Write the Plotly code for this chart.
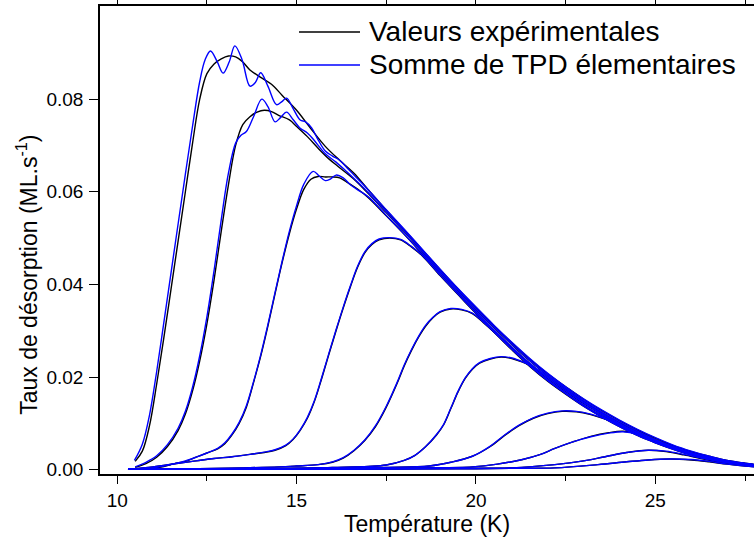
import plotly.graph_objects as go

# ---------------- data ----------------
# Temperature grids (K) and desorption rates (ML/s) for each TPD run
t1_exp = [10.50, 10.70, 10.90, 11.10, 11.30, 11.50, 11.70, 11.90, 12.10, 12.30, 12.50, 12.70, 12.90, 13.10, 13.30, 13.50, 13.70, 14.00, 14.30, 14.60, 15.00, 15.40, 15.80, 16.20, 16.60, 17.00, 17.50, 18.00, 18.50, 19.00, 19.50, 20.00, 20.50, 21.00, 21.50, 22.00, 22.50, 23.00, 23.50, 24.00, 24.50, 25.00, 25.50, 26.00, 26.50, 27.00, 27.50, 27.80]
exp1 = [0.0018, 0.0040, 0.0095, 0.0185, 0.0285, 0.0390, 0.0495, 0.0600, 0.0705, 0.0800, 0.0855, 0.0876, 0.0887, 0.0893, 0.0891, 0.0880, 0.0863, 0.0847, 0.0832, 0.0808, 0.0776, 0.0736, 0.0698, 0.0668, 0.0640, 0.0604, 0.0560, 0.0518, 0.0475, 0.0432, 0.0390, 0.0350, 0.0311, 0.0274, 0.0239, 0.0207, 0.0179, 0.0152, 0.0128, 0.0106, 0.0086, 0.0068, 0.0052, 0.0039, 0.0029, 0.0020, 0.0014, 0.0011]
t1_fit = [10.48, 10.70, 10.90, 11.10, 11.30, 11.50, 11.70, 11.90, 12.10, 12.30, 12.45, 12.60, 12.78, 12.95, 13.12, 13.28, 13.48, 13.70, 13.85, 14.00, 14.20, 14.44, 14.58, 14.72, 14.90, 15.10, 15.25, 15.42, 15.60, 15.80, 16.00, 16.20, 16.45, 16.70, 17.00, 17.50, 18.00, 18.50, 19.00, 19.50, 20.00, 20.50, 21.00, 21.50, 22.00, 22.50, 23.00, 23.50, 24.00, 24.50, 25.00, 25.50, 26.00, 26.50, 27.00, 27.50, 27.80]
fit1 = [0.0020, 0.0055, 0.0118, 0.0212, 0.0318, 0.0425, 0.0532, 0.0638, 0.0742, 0.0838, 0.0885, 0.0904, 0.0882, 0.0856, 0.0880, 0.0915, 0.0885, 0.0828, 0.0836, 0.0857, 0.0828, 0.0788, 0.0794, 0.0802, 0.0780, 0.0755, 0.0751, 0.0738, 0.0712, 0.0688, 0.0677, 0.0668, 0.0648, 0.0628, 0.0604, 0.0561, 0.0519, 0.0476, 0.0433, 0.0391, 0.0351, 0.0312, 0.0275, 0.0240, 0.0208, 0.0179, 0.0153, 0.0129, 0.0107, 0.0087, 0.0069, 0.0053, 0.0040, 0.0029, 0.0020, 0.0014, 0.0011]

t2_exp = [10.50, 10.80, 11.10, 11.40, 11.70, 11.90, 12.10, 12.30, 12.50, 12.70, 12.90, 13.10, 13.30, 13.50, 13.70, 13.90, 14.10, 14.30, 14.50, 14.80, 15.00, 15.30, 15.60, 15.90, 16.20, 16.60, 17.00, 17.50, 18.00, 18.50, 19.00, 19.50, 20.00, 20.50, 21.00, 21.50, 22.00, 22.50, 23.00, 23.50, 24.00, 24.50, 25.00, 25.50, 26.00, 26.50, 27.00, 27.50, 27.80]
exp2 = [0.0005, 0.0013, 0.0027, 0.0050, 0.0085, 0.0120, 0.0170, 0.0235, 0.0315, 0.0410, 0.0515, 0.0615, 0.0700, 0.0745, 0.0762, 0.0772, 0.0776, 0.0773, 0.0765, 0.0755, 0.0741, 0.0719, 0.0694, 0.0671, 0.0652, 0.0627, 0.0596, 0.0555, 0.0514, 0.0471, 0.0428, 0.0387, 0.0346, 0.0307, 0.0270, 0.0235, 0.0203, 0.0175, 0.0148, 0.0124, 0.0102, 0.0083, 0.0065, 0.0050, 0.0037, 0.0027, 0.0019, 0.0013, 0.0010]
t2_fit = [10.50, 10.80, 11.10, 11.40, 11.70, 11.90, 12.10, 12.30, 12.50, 12.70, 12.90, 13.10, 13.30, 13.45, 13.60, 13.80, 14.03, 14.20, 14.40, 14.55, 14.72, 14.90, 15.10, 15.30, 15.50, 15.80, 16.10, 16.40, 16.70, 17.00, 17.50, 18.00, 18.50, 19.00, 19.50, 20.00, 20.50, 21.00, 21.50, 22.00, 22.50, 23.00, 23.50, 24.00, 24.50, 25.00, 25.50, 26.00, 26.50, 27.00, 27.50, 27.80]
fit2 = [0.0006, 0.0016, 0.0030, 0.0054, 0.0090, 0.0126, 0.0178, 0.0246, 0.0330, 0.0430, 0.0540, 0.0640, 0.0705, 0.0722, 0.0730, 0.0762, 0.0800, 0.0784, 0.0751, 0.0760, 0.0772, 0.0756, 0.0737, 0.0727, 0.0710, 0.0682, 0.0664, 0.0643, 0.0621, 0.0598, 0.0556, 0.0515, 0.0472, 0.0429, 0.0388, 0.0347, 0.0308, 0.0271, 0.0236, 0.0204, 0.0176, 0.0149, 0.0125, 0.0103, 0.0083, 0.0065, 0.0050, 0.0037, 0.0027, 0.0019, 0.0013, 0.0010]

t3_exp = [10.30, 10.90, 11.30, 11.60, 11.90, 12.20, 12.50, 12.80, 13.00, 13.20, 13.40, 13.60, 13.80, 14.00, 14.20, 14.40, 14.60, 14.80, 15.00, 15.20, 15.40, 15.60, 15.80, 16.00, 16.20, 16.40, 16.70, 17.00, 17.50, 18.00, 18.50, 19.00, 19.50, 20.00, 20.50, 21.00, 21.50, 22.00, 22.50, 23.00, 23.50, 24.00, 24.50, 25.00, 25.50, 26.00, 26.50, 27.00, 27.50, 27.80]
exp3 = [0.0001, 0.0002, 0.0007, 0.0013, 0.0018, 0.0027, 0.0036, 0.0045, 0.0056, 0.0075, 0.0100, 0.0135, 0.0188, 0.0245, 0.0310, 0.0380, 0.0448, 0.0510, 0.0563, 0.0605, 0.0627, 0.0633, 0.0632, 0.0632, 0.0630, 0.0621, 0.0606, 0.0587, 0.0548, 0.0508, 0.0466, 0.0424, 0.0382, 0.0341, 0.0301, 0.0264, 0.0229, 0.0197, 0.0169, 0.0143, 0.0120, 0.0098, 0.0079, 0.0062, 0.0047, 0.0035, 0.0026, 0.0018, 0.0013, 0.0010]
t3_fit = [10.30, 10.90, 11.30, 11.60, 11.90, 12.20, 12.50, 12.80, 13.00, 13.20, 13.40, 13.60, 13.80, 14.00, 14.20, 14.40, 14.60, 14.80, 15.00, 15.20, 15.46, 15.63, 15.80, 15.95, 16.10, 16.30, 16.50, 16.75, 17.00, 17.50, 18.00, 18.50, 19.00, 19.50, 20.00, 20.50, 21.00, 21.50, 22.00, 22.50, 23.00, 23.50, 24.00, 24.50, 25.00, 25.50, 26.00, 26.50, 27.00, 27.50, 27.80]
fit3 = [0.0001, 0.0003, 0.0008, 0.0013, 0.0019, 0.0027, 0.0036, 0.0046, 0.0058, 0.0077, 0.0102, 0.0138, 0.0190, 0.0248, 0.0313, 0.0383, 0.0451, 0.0515, 0.0570, 0.0616, 0.0644, 0.0634, 0.0624, 0.0628, 0.0636, 0.0630, 0.0615, 0.0602, 0.0589, 0.0549, 0.0509, 0.0467, 0.0425, 0.0383, 0.0342, 0.0302, 0.0265, 0.0230, 0.0198, 0.0170, 0.0144, 0.0120, 0.0098, 0.0079, 0.0062, 0.0047, 0.0035, 0.0026, 0.0018, 0.0013, 0.0010]

t4 = [10.30, 11.00, 11.70, 12.20, 12.70, 13.20, 13.70, 14.10, 14.40, 14.70, 14.90, 15.10, 15.30, 15.50, 15.70, 15.90, 16.10, 16.30, 16.50, 16.70, 16.90, 17.10, 17.30, 17.60, 17.90, 18.20, 18.50, 19.00, 19.50, 20.00, 20.50, 21.00, 21.50, 22.00, 22.50, 23.00, 23.50, 24.00, 24.50, 25.00, 25.50, 26.00, 26.50, 27.00, 27.50, 27.80]
exp4 = [0.0001, 0.0006, 0.0014, 0.0019, 0.0024, 0.0028, 0.0033, 0.0037, 0.0042, 0.0052, 0.0065, 0.0085, 0.0111, 0.0148, 0.0197, 0.0249, 0.0300, 0.0349, 0.0395, 0.0437, 0.0468, 0.0486, 0.0496, 0.0500, 0.0496, 0.0481, 0.0462, 0.0419, 0.0378, 0.0337, 0.0297, 0.0260, 0.0225, 0.0193, 0.0165, 0.0139, 0.0116, 0.0095, 0.0076, 0.0059, 0.0045, 0.0033, 0.0024, 0.0017, 0.0012, 0.0009]
fit4 = [0.0001, 0.0006, 0.0014, 0.0019, 0.0024, 0.0028, 0.0033, 0.0038, 0.0043, 0.0053, 0.0066, 0.0086, 0.0113, 0.0150, 0.0199, 0.0251, 0.0302, 0.0351, 0.0397, 0.0439, 0.0470, 0.0488, 0.0498, 0.0501, 0.0497, 0.0482, 0.0463, 0.0420, 0.0379, 0.0338, 0.0298, 0.0261, 0.0226, 0.0194, 0.0166, 0.0140, 0.0116, 0.0095, 0.0076, 0.0059, 0.0045, 0.0033, 0.0024, 0.0017, 0.0012, 0.0009]

t5 = [10.30, 12.00, 13.50, 14.50, 15.00, 15.60, 16.00, 16.30, 16.60, 16.90, 17.20, 17.50, 17.80, 18.00, 18.20, 18.40, 18.60, 18.80, 19.00, 19.30, 19.60, 19.90, 20.20, 20.50, 21.00, 21.50, 22.00, 22.50, 23.00, 23.50, 24.00, 24.50, 25.00, 25.50, 26.00, 26.50, 27.00, 27.50, 27.80]
exp5 = [0.0001, 0.0002, 0.0004, 0.0006, 0.0008, 0.0011, 0.0016, 0.0025, 0.0041, 0.0063, 0.0093, 0.0135, 0.0186, 0.0224, 0.0257, 0.0286, 0.0310, 0.0328, 0.0340, 0.0347, 0.0345, 0.0337, 0.0318, 0.0297, 0.0259, 0.0223, 0.0191, 0.0163, 0.0137, 0.0114, 0.0093, 0.0074, 0.0058, 0.0044, 0.0032, 0.0023, 0.0016, 0.0012, 0.0009]
fit5 = [0.0001, 0.0002, 0.0004, 0.0006, 0.0008, 0.0011, 0.0017, 0.0026, 0.0042, 0.0064, 0.0095, 0.0137, 0.0188, 0.0226, 0.0259, 0.0288, 0.0312, 0.0329, 0.0341, 0.0348, 0.0346, 0.0338, 0.0319, 0.0298, 0.0260, 0.0224, 0.0192, 0.0164, 0.0137, 0.0114, 0.0093, 0.0074, 0.0058, 0.0044, 0.0032, 0.0023, 0.0016, 0.0012, 0.0009]

t6 = [10.30, 13.00, 15.00, 16.00, 17.00, 17.50, 18.00, 18.30, 18.60, 18.90, 19.10, 19.30, 19.50, 19.70, 19.90, 20.10, 20.40, 20.70, 21.00, 21.30, 21.60, 22.00, 22.50, 23.00, 23.50, 24.00, 24.50, 25.00, 25.50, 26.00, 26.50, 27.00, 27.50, 27.80]
exp6 = [0.0001, 0.0002, 0.0003, 0.0005, 0.0007, 0.0010, 0.0020, 0.0031, 0.0050, 0.0075, 0.0097, 0.0132, 0.0168, 0.0197, 0.0217, 0.0230, 0.0239, 0.0243, 0.0240, 0.0232, 0.0221, 0.0200, 0.0172, 0.0145, 0.0122, 0.0100, 0.0080, 0.0063, 0.0048, 0.0036, 0.0026, 0.0018, 0.0013, 0.0010]
fit6 = [0.0001, 0.0002, 0.0003, 0.0005, 0.0007, 0.0010, 0.0020, 0.0031, 0.0050, 0.0076, 0.0098, 0.0133, 0.0169, 0.0198, 0.0218, 0.0231, 0.0240, 0.0244, 0.0241, 0.0233, 0.0222, 0.0201, 0.0173, 0.0146, 0.0122, 0.0100, 0.0080, 0.0063, 0.0048, 0.0036, 0.0026, 0.0018, 0.0013, 0.0010]

t7 = [10.30, 12.50, 14.00, 16.00, 17.50, 18.70, 19.30, 19.90, 20.40, 20.80, 21.20, 21.60, 22.00, 22.40, 22.80, 23.20, 23.60, 24.00, 24.40, 24.80, 25.20, 25.60, 26.00, 26.50, 27.00, 27.50, 27.80]
exp7 = [0.0001, 0.0001, 0.0002, 0.0003, 0.0005, 0.0008, 0.0016, 0.0029, 0.0050, 0.0074, 0.0095, 0.0111, 0.0121, 0.0126, 0.0125, 0.0119, 0.0109, 0.0096, 0.0082, 0.0068, 0.0055, 0.0044, 0.0034, 0.0024, 0.0016, 0.0011, 0.0008]
fit7 = [0.0001, 0.0001, 0.0002, 0.0003, 0.0005, 0.0008, 0.0016, 0.0029, 0.0051, 0.0075, 0.0096, 0.0112, 0.0122, 0.0127, 0.0126, 0.0120, 0.0110, 0.0097, 0.0083, 0.0069, 0.0056, 0.0044, 0.0034, 0.0024, 0.0016, 0.0011, 0.0008]

t8 = [10.30, 12.50, 14.50, 16.00, 17.50, 18.50, 19.90, 20.60, 21.30, 21.80, 22.20, 22.70, 23.20, 23.70, 24.10, 24.50, 24.90, 25.30, 25.70, 26.10, 26.50, 27.00, 27.50, 27.80]
exp8 = [0.0001, 0.0001, 0.0002, 0.0002, 0.0003, 0.0004, 0.0006, 0.0012, 0.0022, 0.0033, 0.0046, 0.0060, 0.0072, 0.0080, 0.0083, 0.0077, 0.0064, 0.0052, 0.0041, 0.0032, 0.0025, 0.0017, 0.0012, 0.0009]
fit8 = [0.0001, 0.0001, 0.0002, 0.0002, 0.0003, 0.0004, 0.0006, 0.0012, 0.0022, 0.0033, 0.0046, 0.0060, 0.0071, 0.0079, 0.0082, 0.0077, 0.0065, 0.0053, 0.0042, 0.0032, 0.0025, 0.0017, 0.0012, 0.0009]

t9 = [10.30, 12.50, 14.50, 16.50, 18.00, 19.50, 21.00, 22.20, 23.00, 23.60, 24.20, 24.80, 25.30, 25.80, 26.40, 27.00, 27.50, 27.80]
exp9 = [0.0001, 0.0001, 0.0001, 0.0002, 0.0002, 0.0003, 0.0004, 0.0011, 0.0019, 0.0028, 0.0037, 0.0042, 0.0039, 0.0032, 0.0022, 0.0014, 0.0010, 0.0008]
fit9 = [0.0001, 0.0001, 0.0001, 0.0002, 0.0002, 0.0003, 0.0004, 0.0011, 0.0019, 0.0028, 0.0037, 0.0042, 0.0040, 0.0033, 0.0023, 0.0015, 0.0010, 0.0008]

t10 = [10.30, 12.50, 14.50, 16.50, 18.50, 20.00, 21.20, 22.20, 23.40, 24.20, 24.80, 25.40, 26.00, 26.50, 27.00, 27.50, 27.80]
exp10 = [0.0001, 0.0001, 0.0001, 0.0001, 0.0002, 0.0002, 0.0003, 0.0004, 0.0011, 0.0017, 0.0021, 0.0023, 0.0021, 0.0017, 0.0012, 0.0008, 0.0006]
fit10 = [0.0001, 0.0001, 0.0001, 0.0001, 0.0002, 0.0002, 0.0003, 0.0004, 0.0011, 0.0017, 0.0021, 0.0023, 0.0022, 0.0018, 0.0012, 0.0008, 0.0006]

experimental = [(t1_exp, exp1), (t2_exp, exp2), (t3_exp, exp3), (t4, exp4), (t5, exp5),
                (t6, exp6), (t7, exp7), (t8, exp8), (t9, exp9), (t10, exp10)]
fitted = [(t1_fit, fit1), (t2_fit, fit2), (t3_fit, fit3), (t4, fit4), (t5, fit5),
          (t6, fit6), (t7, fit7), (t8, fit8), (t9, fit9), (t10, fit10)]

x_ticks = [10, 15, 20, 25]
y_ticks = [0.00, 0.02, 0.04, 0.06, 0.08]
legend_labels = ["Valeurs expérimentales", "Somme de TPD élementaires"]
x_title = "Température (K)"
y_title = "Taux de désorption (ML.s<sup>-1</sup>)"

# ---------------- figure ----------------
FONT = "Liberation Sans, Arial, Helvetica, sans-serif"
BLACK = "#000000"
BLUE = "#0000ff"

fig = go.Figure()
for tx, vy in experimental:
    fig.add_trace(go.Scatter(x=tx, y=vy, mode="lines", name=legend_labels[0],
                             line=dict(color=BLACK, width=1.4, shape="spline", smoothing=1.0),
                             showlegend=False, hoverinfo="skip"))
for tx, vy in fitted:
    fig.add_trace(go.Scatter(x=tx, y=vy, mode="lines", name=legend_labels[1],
                             line=dict(color=BLUE, width=1.4, shape="spline", smoothing=1.0),
                             showlegend=False, hoverinfo="skip"))

# legend: long line samples followed by the labels, as in the reference
for k, (label, col) in enumerate(zip(legend_labels, [BLACK, BLUE])):
    yy = 0.9445 - k * 0.0705
    fig.add_shape(type="line", xref="paper", yref="paper", x0=0.3043, x1=0.3976, y0=yy, y1=yy,
                  line=dict(color=col, width=1.4))
    fig.add_annotation(xref="paper", yref="paper", x=0.408, y=yy, text=label, showarrow=False,
                       xanchor="left", yanchor="middle", font=dict(family=FONT, size=28, color=BLACK))

# y axis title (placed lower than the axis centre, as in the reference)
fig.add_annotation(xref="paper", yref="paper", x=-0.1116, y=0.4256, text=y_title, textangle=-90,
                   showarrow=False, xanchor="center", yanchor="middle",
                   font=dict(family=FONT, size=23, color=BLACK))

fig.update_layout(
    width=754, height=541,
    margin=dict(l=100, r=0, t=6, b=67),
    paper_bgcolor="white", plot_bgcolor="white",
    font=dict(family=FONT, color=BLACK),
    showlegend=False,
)
fig.update_xaxes(
    range=[9.52, 27.75], tickvals=x_ticks, ticks="outside", ticklen=8, tickwidth=1.3,
    tickcolor=BLACK, showline=True, linecolor=BLACK, linewidth=1.5, mirror="ticks",
    showgrid=False, zeroline=False, tickfont=dict(size=19, family=FONT), automargin=False,
    minor=dict(dtick=2.5, tick0=10, ticks="outside", ticklen=5, tickwidth=1.3, tickcolor=BLACK, showgrid=False),
    title=dict(text=x_title, font=dict(size=23, family=FONT), standoff=2),
)
fig.update_yaxes(
    range=[-0.00093, 0.1001], tickvals=y_ticks, tickformat=".2f", ticks="outside", ticklen=9,
    tickwidth=1.3, tickcolor=BLACK, showline=True, linecolor=BLACK, linewidth=1.5,
    showgrid=False, zeroline=False, tickfont=dict(size=19, family=FONT), automargin=False,
    ticklabelstandoff=2,
)

fig.write_html("out.html", config={"displayModeBar": False},
               post_script="document.body.style.margin='0px';")
